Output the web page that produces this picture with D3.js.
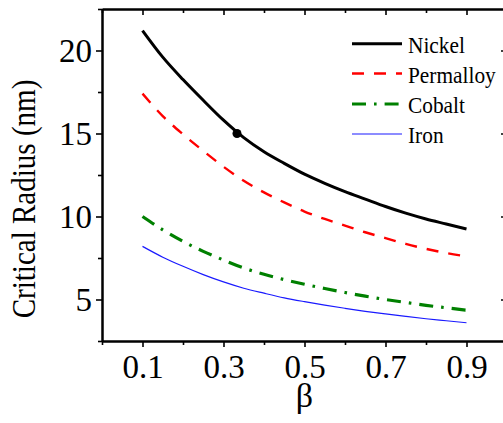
<!DOCTYPE html>
<html>
<head>
<meta charset="utf-8">
<script src="https://cdn.jsdelivr.net/npm/d3@7"></script>
</head>
<body style="margin:0; background:#fff">
<div id="fig"></div>
<script>
const width = 503;
const height = 423;
const fontName = "Liberation Serif";

// values
const beta = [0.1, 0.15, 0.2, 0.25, 0.3, 0.35, 0.4, 0.45, 0.5, 0.55, 0.6, 0.65, 0.7, 0.75, 0.8, 0.85, 0.9];
const nickel = [21.2, 19.6, 18.25, 17.0, 15.8, 14.75, 13.9, 13.2, 12.55, 12.0, 11.5, 11.05, 10.6, 10.2, 9.85, 9.55, 9.25];
const permalloy = [17.4, 16.05, 14.95, 13.95, 13.0, 12.15, 11.45, 10.85, 10.3, 9.85, 9.45, 9.05, 8.7, 8.35, 8.05, 7.8, 7.6];
const cobalt = [10.0, 9.2, 8.5, 7.9, 7.38, 6.9, 6.52, 6.2, 5.92, 5.66, 5.42, 5.2, 5.0, 4.82, 4.65, 4.5, 4.35];
const iron = [8.2, 7.55, 7.0, 6.5, 6.06, 5.68, 5.38, 5.1, 4.87, 4.66, 4.47, 4.29, 4.13, 3.98, 3.84, 3.72, 3.6];
const marker = {beta: 1 / 3, value: 15.0};

const seriesNames = ["Nickel", "Permalloy", "Cobalt", "Iron"];
const seriesValues = [nickel, permalloy, cobalt, iron];

const xMajor = [0.1, 0.3, 0.5, 0.7, 0.9];
const xMinor = [0, 0.2, 0.4, 0.6, 0.8, 1.0];
const yMajor = [5, 10, 15, 20];
const yMinor = [2.5, 7.5, 12.5, 17.5, 22.5];

// line styles per series
const styles = [
	{color: "#000000", w: 3, dash: null},
	{color: "#ff0000", w: 2.4, dash: "12,10"},
	{color: "#008000", w: 3.2, dash: "14,8,2.6,8"},
	{color: "#1a1aff", w: 1.2, dash: null}
];

const plotLeft = 102, plotRight = 507, plotTop = 9, plotBottom = 341;

const x = d3.scaleLinear().domain([0, 1]).range([plotLeft, plotRight]);
const y = d3.scaleLinear().domain([2.5, 22.5]).range([plotBottom, plotTop]);

let svg = d3.select("#fig")
	.append("svg")
	.attr("width", width)
	.attr("height", height);

function serifText(sel) {
	return sel.style("font-family", "'" + fontName + "'");
}

// axes
function styleAxis(g) {
	g.attr("font-family", null).attr("font-size", null);
	g.select(".domain").attr("stroke-width", 2).attr("stroke", "#000");
	g.selectAll(".tick line").attr("stroke-width", 1.6).attr("stroke", "#000");
	g.selectAll("text").attr("font-size", 33).attr("fill", "#000").call(serifText);
}

svg.append("g").attr("transform", "translate(0," + plotBottom + ")")
	.call(d3.axisBottom(x).tickValues(xMinor).tickSize(4).tickSizeOuter(0).tickFormat(""))
	.call(styleAxis);
svg.append("g").attr("transform", "translate(0," + plotBottom + ")")
	.call(d3.axisBottom(x).tickValues(xMajor).tickSize(6).tickSizeOuter(0).tickPadding(8).tickFormat(d3.format(".1f")))
	.call(styleAxis);

svg.append("g").attr("transform", "translate(0," + plotTop + ")")
	.call(d3.axisTop(x).tickValues(xMinor).tickSize(-4).tickSizeOuter(0).tickFormat(""))
	.call(styleAxis);
svg.append("g").attr("transform", "translate(0," + plotTop + ")")
	.call(d3.axisTop(x).tickValues(xMajor).tickSize(-6).tickSizeOuter(0).tickFormat(""))
	.call(styleAxis);

svg.append("g").attr("transform", "translate(" + plotLeft + ",0)")
	.call(d3.axisLeft(y).tickValues(yMinor).tickSize(4).tickSizeOuter(0).tickFormat(""))
	.call(styleAxis);
svg.append("g").attr("transform", "translate(" + plotLeft + ",0)")
	.call(d3.axisLeft(y).tickValues(yMajor).tickSize(6).tickSizeOuter(0).tickPadding(4).tickFormat(d3.format("d")))
	.call(styleAxis);

svg.append("g").attr("transform", "translate(" + plotRight + ",0)")
	.call(d3.axisRight(y).tickValues(yMinor).tickSize(-4).tickSizeOuter(0).tickFormat(""))
	.call(styleAxis);
svg.append("g").attr("transform", "translate(" + plotRight + ",0)")
	.call(d3.axisRight(y).tickValues(yMajor).tickSize(-6).tickSizeOuter(0).tickFormat(""))
	.call(styleAxis);

// curves
let line = d3.line()
	.x(d => x(d[0]))
	.y(d => y(d[1]))
	.curve(d3.curveMonotoneX);

seriesValues.forEach((vals, i) => {
	let pts = beta.map((b, j) => [b, vals[j]]);
	let p = svg.append("path")
		.attr("d", line(pts))
		.attr("fill", "none")
		.attr("stroke", styles[i].color)
		.attr("stroke-width", styles[i].w);
	if (styles[i].dash) p.attr("stroke-dasharray", styles[i].dash);
});

svg.append("circle")
	.attr("cx", x(marker.beta))
	.attr("cy", y(marker.value))
	.attr("r", 4.5)
	.attr("fill", "#000");

// legend
const legendY = [43.7, 73.5, 104, 134];
seriesNames.forEach((name, i) => {
	let p = svg.append("line")
		.attr("x1", 352).attr("x2", 402)
		.attr("y1", legendY[i]).attr("y2", legendY[i])
		.attr("stroke", styles[i].color)
		.attr("stroke-width", styles[i].w);
	if (styles[i].dash) p.attr("stroke-dasharray", styles[i].dash);
	svg.append("text")
		.attr("transform", "translate(408," + (legendY[i] + 9) + ") scale(0.89,1)")
		.attr("font-size", 24)
		.call(serifText)
		.text(name);
});

// axis titles
svg.append("text")
	.attr("transform", "translate(35,199) rotate(-90) scale(0.88,1)")
	.attr("text-anchor", "middle")
	.attr("font-size", 33)
	.call(serifText)
	.text("Critical Radius (nm)");

svg.append("text")
	.attr("x", x(0.5))
	.attr("y", 407)
	.attr("text-anchor", "middle")
	.attr("font-size", 34)
	.call(serifText)
	.text("β");
</script>
</body>
</html>
